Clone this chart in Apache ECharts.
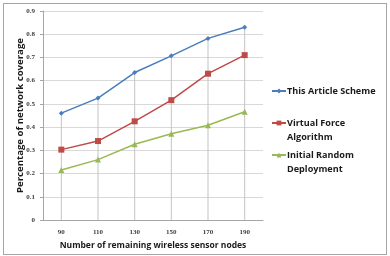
<!DOCTYPE html>
<html>
<head>
<meta charset="utf-8">
<title>network coverage</title>
<script src="https://cdn.jsdelivr.net/npm/echarts@6/dist/echarts.min.js"></script>
<style>
  html, body { margin: 0; padding: 0; background: #fff; }
  #frame { position: absolute; left: 3px; top: 3px; width: 382px; height: 250px; border: 1px solid #a6a6a6; }
  #main { position: absolute; left: 0; top: 0; width: 390px; height: 256px; }
</style>
</head>
<body>
<div id="frame"></div>
<div id="main"></div>
<script>
// data
var nodes = ['90', '110', '130', '150', '170', '190'];
var articleScheme = [0.46, 0.525, 0.635, 0.707, 0.782, 0.83];
var virtualForce = [0.303, 0.34, 0.425, 0.516, 0.63, 0.71];
var randomDeploy = [0.215, 0.26, 0.326, 0.371, 0.408, 0.466];
var seriesNames = ['This Article Scheme', 'Virtual Force\nAlgorithm', 'Initial Random\nDeployment'];

var myChart = echarts.init(document.getElementById('main'));

var tickFont = { fontFamily: 'Liberation Serif', fontWeight: 'bold', fontSize: 7, color: '#404040' };

function lineSeries(name, data, color, symbol, size) {
  return {
    name: name,
    type: 'line',
    data: data,
    symbol: symbol,
    symbolSize: size,
    z: 3,
    lineStyle: { color: color, width: 1.5 },
    itemStyle: { color: color }
  };
}

// one legend per entry so the marker sits on the first text line
function legendItem(name, top) {
  return {
    left: 271,
    top: top,
    padding: 0,
    itemWidth: 14,
    itemHeight: 6,
    // a blank first line keeps the icon level with the first real line
    formatter: function (n) { return n.indexOf('\n') >= 0 ? '\n' + n : n; },
    textStyle: { fontFamily: 'Open Sans', fontWeight: 'bold', fontSize: 9.1, color: '#1a1a1a', lineHeight: 14, padding: [0, 0, 0, -4] },
    data: [name]
  };
}

var option = {
  animation: false,
  grid: { left: 43, right: 127, top: 11, bottom: 36 },
  legend: [
    legendItem(seriesNames[0], 84),
    legendItem(seriesNames[1], 102),
    legendItem(seriesNames[2], 134)
  ],
  xAxis: {
    type: 'category',
    data: nodes,
    name: 'Number of remaining wireless sensor nodes',
    nameLocation: 'middle',
    nameGap: 21,
    nameMoveOverlap: false,
    nameTextStyle: { fontFamily: 'Open Sans', fontWeight: 'bold', fontSize: 8.5, color: '#1a1a1a' },
    axisLine: { lineStyle: { color: '#a6a6a6' } },
    axisTick: { show: false },
    axisLabel: Object.assign({ margin: 9 }, tickFont)
  },
  yAxis: {
    type: 'value',
    min: 0,
    max: 0.9,
    interval: 0.1,
    name: 'Percentage of network coverage',
    nameLocation: 'middle',
    nameGap: 18,
    nameMoveOverlap: false,
    nameTextStyle: { fontFamily: 'Open Sans', fontWeight: 'bold', fontSize: 9.6, color: '#1a1a1a' },
    axisLine: { show: true, lineStyle: { color: '#a6a6a6' } },
    axisTick: { show: true, length: 3, lineStyle: { color: '#a6a6a6' } },
    splitLine: { lineStyle: { color: '#d9d9d9', width: 1 } },
    axisLabel: Object.assign({ margin: 8, formatter: function (v) { return v === 0 ? '0' : v.toFixed(1); } }, tickFont)
  },
  series: [
    // drop lines from the top series down to the axis
    {
      type: 'bar',
      data: articleScheme,
      barWidth: 1,
      z: 1,
      silent: true,
      itemStyle: { color: '#c4c4c4' }
    },
    lineSeries(seriesNames[0], articleScheme, '#4a7ebb', 'diamond', 5),
    lineSeries(seriesNames[1], virtualForce, '#be4b48', 'rect', 6),
    lineSeries(seriesNames[2], randomDeploy, '#98b954', 'triangle', 6)
  ]
};

myChart.setOption(option);
</script>
</body>
</html>
